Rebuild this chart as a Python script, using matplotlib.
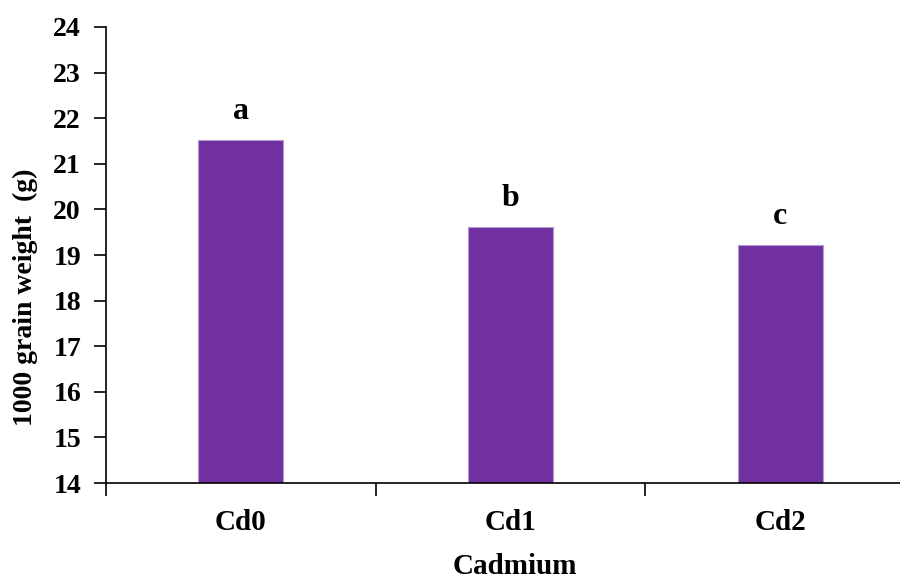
import matplotlib
matplotlib.use("Agg")
from matplotlib import pyplot as plt

# data
categories = ["Cd0", "Cd1", "Cd2"]
grain_weight = [21.52, 19.62, 19.23]
letters = ["a", "b", "c"]

plt.rcParams['font.family'] = ['Liberation Serif', 'DejaVu Serif']
plt.rcParams['font.weight'] = 'bold'

W, H = 900, 579
fig = plt.figure(figsize=(W / 100, H / 100), dpi=100)
ax = fig.add_axes([106 / W, 1 - 483 / H, 809 / W, 456 / H])

x = list(range(len(categories)))
ax.bar(x, [v - 14 for v in grain_weight], bottom=14, width=0.315,
       color='#7030A0', edgecolor='#B59AD0', linewidth=0.8, zorder=2)

for xi, v, lab in zip(x, grain_weight, letters):
    ax.text(xi, v + 0.3, lab, ha='center', va='bottom', fontsize=23, fontweight='bold')

ax.set_ylim(14, 24)
ax.set_xlim(-0.5, 2.5)
ax.set_yticks(range(14, 25))
ax.tick_params(axis='y', direction='out', length=9, width=1.2, labelsize=20, pad=9)

# x ticks sit at the category boundaries, labels at the centres
ax.set_xticks([-0.5, 0.5, 1.5, 2.5])
ax.set_xticklabels([])
ax.set_xticks(x, minor=True)
ax.set_xticklabels(categories, minor=True, fontsize=21, fontweight='bold')
ax.tick_params(axis='x', which='major', direction='out', length=9, width=1.2)
ax.tick_params(axis='x', which='minor', length=0, pad=19)

for s in ['top', 'right']:
    ax.spines[s].set_visible(False)
for s in ['left', 'bottom']:
    ax.spines[s].set_linewidth(1.2)

fig.text(515 / W, 1 - 567 / H, "Cadmium", fontsize=21, fontweight='bold',
         ha='center', va='center')
fig.text(25 / W, 1 - 297 / H, "1000 grain weight  (g)", fontsize=20, fontweight='bold',
         ha='center', va='center', rotation=90)

fig.savefig("out.png", dpi=100)
